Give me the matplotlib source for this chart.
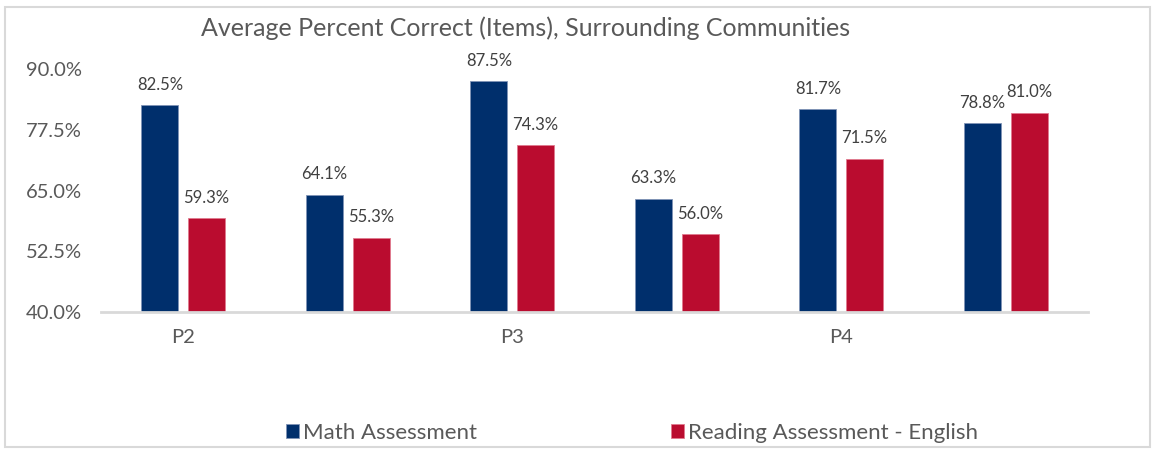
import matplotlib.pyplot as plt
from matplotlib.patches import Rectangle
import numpy as np

plt.rcParams['font.family'] = ['Lato', 'DejaVu Sans']

groups = ['P2', '', 'P3', '', 'P4', '']
math_vals = [82.5, 64.1, 87.5, 63.3, 81.7, 78.8]
reading_vals = [59.3, 55.3, 74.3, 56.0, 71.5, 81.0]
yticks = [40.0, 52.5, 65.0, 77.5, 90.0]

navy = '#002F6C'
red = '#BA0C2F'
grey = '#595959'

fig = plt.figure(figsize=(11.54, 4.5), dpi=100)
ax = fig.add_axes([101 / 1154, 1 - 312 / 450, (1088 - 101) / 1154, (312 - 69) / 450])

x = np.arange(len(groups))
w = 0.225
off = 0.142
b1 = ax.bar(x - off, np.array(math_vals) - 40, w, bottom=40, color=navy,
            edgecolor='#7F93B5', linewidth=0.6, label='Math Assessment')
b2 = ax.bar(x + off, np.array(reading_vals) - 40, w, bottom=40, color=red,
            edgecolor='#E07A8E', linewidth=0.6, label='Reading Assessment - English')

for xi, v in zip(x, math_vals):
    ax.annotate(f'{v:.1f}%', (xi - off, v), xytext=(0, 9), textcoords='offset points',
                ha='center', va='bottom', fontsize=12, color='#404040', clip_on=False)
for xi, v in zip(x, reading_vals):
    ax.annotate(f'{v:.1f}%', (xi + off, v), xytext=(0, 9), textcoords='offset points',
                ha='center', va='bottom', fontsize=12, color='#404040', clip_on=False)

ax.set_xlim(-0.5, len(groups) - 0.5)
ax.set_ylim(40, 90)
ax.set_yticks(yticks)
ax.set_yticklabels([f'{t:.1f}%' for t in yticks], fontsize=14.5, color=grey)
ax.set_xticks(x)
ax.set_xticklabels(groups, fontsize=14.5, color=grey)
ax.tick_params(axis='both', length=0)
ax.tick_params(axis='y', pad=14)
ax.tick_params(axis='x', pad=12)
for s in ['top', 'right', 'left']:
    ax.spines[s].set_visible(False)
ax.spines['bottom'].set_color('#D9D9D9')
ax.spines['bottom'].set_linewidth(2)

fig.text(526 / 1154, 1 - 28 / 450, 'Average Percent Correct (Items), Surrounding Communities',
         ha='center', va='center', fontsize=18, color=grey)

fig.legend(handles=[b1, b2], loc='center', bbox_to_anchor=(632 / 1154, 1 - 433 / 450),
           ncol=2, frameon=False, fontsize=16, labelcolor=grey,
           handlelength=0.6, handleheight=0.6, handletextpad=0.2, columnspacing=8.7)

fig.patches.append(Rectangle((5 / 1154, 3 / 450), 1145 / 1154, 440 / 450,
                             transform=fig.transFigure, fill=False,
                             edgecolor='#D9D9D9', linewidth=1.5))

fig.savefig('out.png', dpi=100)
